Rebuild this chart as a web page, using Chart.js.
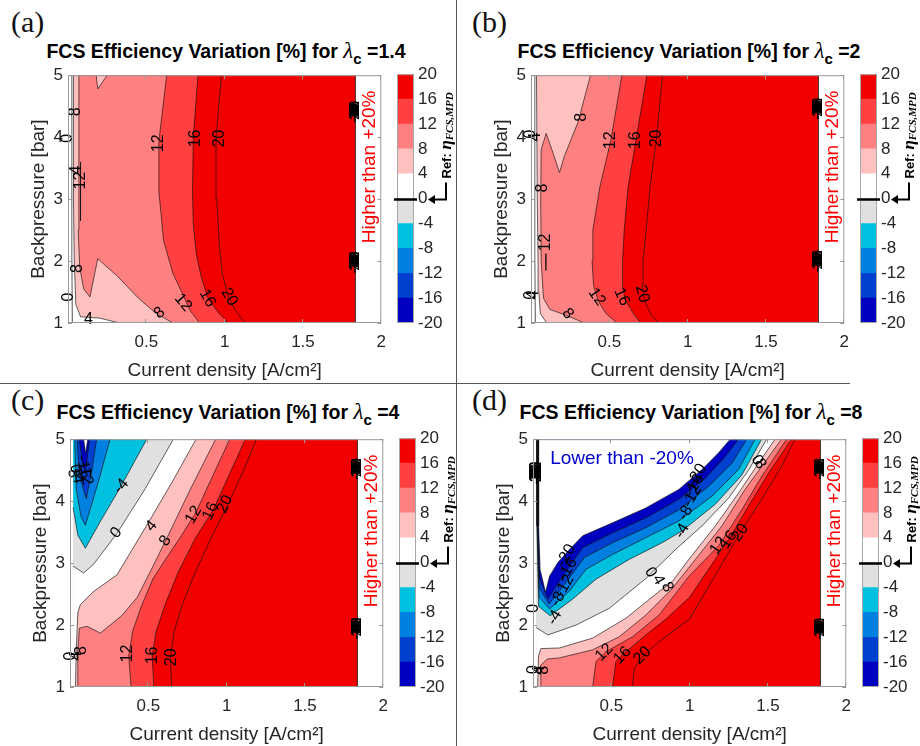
<!DOCTYPE html>
<html>
<head>
<meta charset="utf-8">
<script src="https://cdn.jsdelivr.net/npm/chart.js@4.4.1/dist/chart.umd.min.js"></script>
<style>
  body { margin: 0; background: #fff; }
  #page { position: relative; width: 920px; height: 746px; overflow: hidden; font-family: "Liberation Sans", Arial, sans-serif; }
  canvas { position: absolute; }
  .tag { position: absolute; font-family: "Liberation Serif", "Times New Roman", serif; font-size: 30px; line-height: 1; color: #111; }
  .title { position: absolute; transform: translateX(-50%); white-space: nowrap; font-weight: bold; font-size: 19.5px; line-height: 19px; color: #000; }
  .lam { font-family: "Liberation Serif", serif; font-style: italic; font-weight: normal; font-size: 23px; }
  .sub { position: relative; top: 6px; font-size: 15px; }
  .rule { position: absolute; background: #555; }
</style>
</head>
<body>
<div id="page">
  <div class="rule" style="left:456px;top:0;width:1px;height:746px"></div>
  <div class="rule" style="left:0;top:383px;width:850px;height:1px"></div>

  <div class="tag" style="left:11px;top:7px">(a)</div>
  <div class="tag" style="left:472px;top:7px">(b)</div>
  <div class="tag" style="left:11px;top:385px">(c)</div>
  <div class="tag" style="left:472px;top:385px">(d)</div>

  <div class="title" id="tA" style="left:226px;top:41px"></div>
  <div class="title" id="tB" style="left:689px;top:41px"></div>
  <div class="title" id="tC" style="left:228px;top:402px"></div>
  <div class="title" id="tD" style="left:691px;top:402px"></div>

  <canvas id="mA" width="395" height="322" style="left:0;top:60px"></canvas>
  <canvas id="mB" width="395" height="322" style="left:463px;top:60px"></canvas>
  <canvas id="mC" width="395" height="322" style="left:2px;top:424px"></canvas>
  <canvas id="mD" width="395" height="322" style="left:465px;top:424px"></canvas>

  <canvas id="cA" width="68" height="322" style="left:388px;top:60px"></canvas>
  <canvas id="cB" width="68" height="322" style="left:851px;top:60px"></canvas>
  <canvas id="cC" width="68" height="322" style="left:390px;top:424px"></canvas>
  <canvas id="cD" width="68" height="322" style="left:853px;top:424px"></canvas>
</div>

<script>
// axes
const xTicks = [0.5, 1, 1.5, 2];
const yTicks = [1, 2, 3, 4, 5];
const cbLevels = [-20, -16, -12, -8, -4, 0, 4, 8, 12, 16, 20];
const cbColors = ['#0000c0', '#0040d0', '#0080e0', '#00c0e0', '#e0e0e0', '#ffffff', '#ffc0c0', '#ff8080', '#ff4040', '#f20000'];
const dataX = [0.02, 1.835];   // extent of the computed grid (current density)
const lambdas = ['1.4', '2', '4', '8'];

// contour lines: [level, [[j, p], ...]]
const aLines = [
  [20, [[1.13, 1], [1.07, 1.2], [1.02, 1.45], [0.985, 1.8], [0.965, 2.3], [0.95, 3.0], [0.945, 4.0], [0.98, 5]]],
  [16, [[1.02, 1], [0.95, 1.2], [0.89, 1.42], [0.85, 1.75], [0.82, 2.1], [0.80, 2.6], [0.795, 3.13], [0.80, 4.0], [0.83, 5]]],
  [12, [[0.84, 1], [0.78, 1.2], [0.74, 1.42], [0.67, 1.8], [0.61, 2.33], [0.58, 3.13], [0.58, 3.93], [0.63, 5]]],
  [8, [[0.67, 1], [0.56, 1.16], [0.45, 1.4], [0.31, 1.77], [0.25, 1.9], [0.19, 2.04], [0.14, 1.42], [0.10, 1.55], [0.075, 1.9], [0.065, 2.5], [0.068, 3.5], [0.07, 4.4], [0.07, 5]]],
  [8, [[0.18, 5], [0.19, 4.78], [0.25, 5]]],
  [4, [[0.33, 1], [0.2, 1.08], [0.08, 1.1], [0.05, 1.3], [0.04, 2.0], [0.035, 3], [0.035, 5]]],
  [0, [[0.028, 1], [0.025, 2], [0.024, 4], [0.025, 5]]]
];
const aExtra = [[[0.08, 3.6], [0.08, 2.65]]];
const aLabels = [
  ['8', 0.05, 4.41, -90], ['0', 0.0, 3.98, -90], ['4', 0.055, 3.47, -90], ['12', 0.08, 3.3, -90],
  ['8', 0.06, 1.88, -90], ['0', 0.005, 1.42, -90], ['4', 0.13, 1.05, 0],
  ['8', 0.585, 1.16, -40], ['12', 0.735, 1.33, 50], ['16', 0.89, 1.40, 60], ['20', 1.03, 1.42, 60],
  ['12', 0.58, 3.9, -90], ['16', 0.815, 3.98, -90], ['20', 0.965, 3.98, -90]
];
const aClusterY = [4.41, 1.98];

const bLines = [
  [20, [[0.82, 1], [0.77, 1.12], [0.725, 1.35], [0.71, 1.6], [0.715, 2.0], [0.735, 2.5], [0.76, 3.2], [0.80, 3.95], [0.84, 5]]],
  [16, [[0.70, 1], [0.655, 1.15], [0.60, 1.38], [0.585, 1.6], [0.585, 2.0], [0.595, 2.5], [0.62, 3.2], [0.67, 3.95], [0.74, 5]]],
  [12, [[0.55, 1], [0.48, 1.15], [0.43, 1.35], [0.40, 1.6], [0.39, 2.0], [0.395, 2.5], [0.44, 3.2], [0.51, 3.95], [0.58, 5]]],
  [8, [[0.34, 1], [0.23, 1.12], [0.12, 1.22], [0.08, 1.4], [0.065, 2.0], [0.062, 3.0], [0.065, 3.8], [0.097, 4.06], [0.14, 3.75], [0.182, 3.43], [0.214, 3.7], [0.30, 4.24], [0.38, 5]]],
  [4, [[0.10, 1], [0.06, 1.15], [0.05, 1.5], [0.045, 2.0], [0.04, 3.0], [0.035, 5]]],
  [0, [[0.028, 1], [0.025, 2], [0.024, 4], [0.025, 5]]]
];
const bExtra = [[[0.095, 2.12], [0.095, 1.85]]];
const bLabels = [
  ['8', 0.32, 4.32, -90], ['12', 0.51, 3.95, -90], ['16', 0.67, 3.95, -90], ['20', 0.80, 3.98, -90],
  ['0', 0.0, 4.05, -90], ['4', 0.03, 4.0, -90], ['8', 0.075, 3.18, -90], ['12', 0.095, 2.3, -90],
  ['0', 0.0, 1.45, -90], ['4', 0.015, 1.45, -90],
  ['8', 0.235, 1.15, 50], ['12', 0.42, 1.42, 55], ['16', 0.58, 1.42, 65], ['20', 0.71, 1.47, 75]
];
const bClusterY = [4.46, 2.0];

const cLines = [
  [20, [[0.65, 1], [0.64, 1.45], [0.665, 1.9], [0.72, 2.35], [0.80, 2.85], [0.90, 3.4], [1.0, 3.9], [1.10, 4.45], [1.19, 5]]],
  [16, [[0.535, 1], [0.525, 1.5], [0.55, 1.9], [0.61, 2.35], [0.69, 2.85], [0.80, 3.4], [0.915, 3.86], [1.02, 4.45], [1.12, 5]]],
  [12, [[0.39, 1], [0.375, 1.5], [0.40, 1.9], [0.455, 2.3], [0.53, 2.75], [0.62, 3.1], [0.70, 3.4], [0.80, 3.8], [0.91, 4.4], [1.02, 5]]],
  [8, [[0.045, 1], [0.05, 1.6], [0.06, 1.95], [0.109, 1.98], [0.193, 1.87], [0.33, 2.15], [0.43, 2.45], [0.52, 2.9], [0.61, 3.36], [0.77, 4.2], [0.93, 5]]],
  [4, [[0.035, 1], [0.04, 1.6], [0.05, 2.2], [0.066, 2.33], [0.15, 2.54], [0.30, 2.81], [0.49, 3.61], [0.65, 4.3], [0.805, 5]]],
  [0, [[0.02, 2.95], [0.087, 2.84], [0.15, 2.98], [0.30, 3.48], [0.48, 4.2], [0.66, 5]]],
  [-4, [[0.02, 3.9], [0.05, 3.45], [0.098, 3.24], [0.2, 3.7], [0.33, 4.26], [0.49, 5]]],
  [-8, [[0.03, 5], [0.04, 4.2], [0.07, 3.75], [0.098, 3.61], [0.18, 4.3], [0.256, 5]]],
  [-12, [[0.045, 5], [0.06, 4.4], [0.104, 4.04], [0.14, 4.5], [0.17, 5]]],
  [-16, [[0.06, 5], [0.08, 4.6], [0.098, 4.47], [0.11, 4.7], [0.125, 5]]],
  [-20, [[0.087, 5], [0.1, 4.77], [0.113, 5]]]
];
const cExtra = [];
const cLabels = [
  ['-4', 0.327, 4.24, -50], ['0', 0.295, 3.49, -50], ['4', 0.52, 3.60, -50], ['8', 0.61, 3.36, -55],
  ['12', 0.79, 3.78, -60], ['16', 0.897, 3.84, -65], ['20', 0.99, 3.95, -65],
  ['12', 0.37, 1.54, -90], ['16', 0.53, 1.51, -90], ['20', 0.65, 1.48, -90],
  ['8', 0.074, 1.59, -90], ['4', 0.04, 1.5, -90], ['0', 0.005, 1.5, -90],
  ['8', 0.02, 4.45, 80], ['0', 0.035, 4.52, 80], ['-4', 0.045, 4.4, 80], ['-16', 0.085, 4.55, 80], ['-12', 0.1, 4.45, 80]
];
const cClusterY = [4.52, 1.95];

const dLines = [
  [20, [[0.635, 1], [0.646, 1.3], [0.698, 1.49], [0.804, 1.73], [1.0, 2.1], [1.323, 3.49], [1.46, 4.03], [1.587, 4.56], [1.672, 5]]],
  [16, [[0.508, 1], [0.529, 1.41], [0.571, 1.52], [0.72, 1.84], [0.85, 2.1], [1.0, 2.45], [1.249, 3.38], [1.376, 3.92], [1.503, 4.45], [1.651, 5]]],
  [12, [[0.381, 1], [0.402, 1.41], [0.466, 1.57], [0.635, 1.81], [0.804, 2.16], [1.0, 2.8], [1.185, 3.28], [1.333, 3.86], [1.46, 4.4], [1.619, 5]]],
  [8, [[0.045, 1], [0.05, 1.35], [0.09, 1.45], [0.169, 1.47], [0.381, 1.6], [0.55, 1.81], [0.72, 2.16], [0.889, 2.59], [1.037, 3.06], [1.206, 3.6], [1.354, 4.19], [1.46, 4.56], [1.587, 5]]],
  [4, [[0.03, 1], [0.035, 1.5], [0.05, 1.62], [0.169, 1.63], [0.381, 1.79], [0.593, 2.11], [0.804, 2.54], [0.889, 2.70], [0.995, 3.06], [1.164, 3.6], [1.312, 4.13], [1.439, 4.61], [1.545, 5]]],
  [0, [[0.02, 1.96], [0.095, 1.84], [0.275, 2.0], [0.487, 2.27], [0.72, 2.75], [0.91, 3.22], [1.079, 3.6], [1.249, 4.05], [1.376, 4.5], [1.492, 5]]],
  [-4, [[0.024, 5], [0.025, 3.6], [0.036, 2.3], [0.11, 2.15], [0.254, 2.42], [0.402, 2.74], [0.614, 3.06], [0.825, 3.33], [0.952, 3.52], [1.164, 3.95], [1.333, 4.42], [1.46, 5]]],
  [-8, [[0.026, 5], [0.027, 3.6], [0.038, 2.45], [0.106, 2.26], [0.233, 2.55], [0.339, 2.9], [0.508, 3.14], [0.72, 3.41], [0.931, 3.68], [1.143, 4.08], [1.312, 4.51], [1.418, 5]]],
  [-12, [[0.028, 5], [0.029, 3.6], [0.04, 2.6], [0.102, 2.34], [0.212, 2.69], [0.328, 3.09], [0.508, 3.33], [0.72, 3.57], [0.931, 3.86], [1.122, 4.24], [1.27, 4.61], [1.365, 5]]],
  [-16, [[0.031, 5], [0.032, 3.6], [0.042, 2.75], [0.095, 2.42], [0.19, 2.79], [0.317, 3.25], [0.508, 3.49], [0.72, 3.73], [0.931, 4.03], [1.1, 4.37], [1.228, 4.72], [1.312, 5]]],
  [-20, [[0.035, 5], [0.036, 3.6], [0.045, 2.9], [0.08, 2.53], [0.106, 2.79], [0.159, 3.01], [0.233, 3.22], [0.317, 3.44], [0.508, 3.65], [0.72, 3.89], [0.931, 4.19], [1.079, 4.51], [1.185, 4.78], [1.259, 5]]]
];
const dExtra = [];
const dLabels = [
  ['-4', 0.952, 3.52, -60], ['-8', 0.974, 3.81, -60], ['-12', 1.016, 4.08, -60], ['-16', 1.03, 4.25, -60], ['-20', 1.048, 4.42, -60],
  ['-20', 0.212, 3.12, -60], ['-16', 0.222, 2.9, -60], ['-12', 0.201, 2.63, -60], ['-8', 0.159, 2.42, -60], ['-4', 0.138, 2.12, -60],
  ['0', 0.751, 2.85, 60], ['4', 0.80, 2.73, 60], ['8', 0.857, 2.61, 60],
  ['12', 1.185, 3.28, -55], ['16', 1.249, 3.38, -55], ['20', 1.323, 3.49, -55],
  ['0', 1.43, 4.66, 60], ['8', 1.45, 4.6, 60],
  ['12', 0.455, 1.56, -45], ['16', 0.571, 1.51, -45], ['20', 0.698, 1.51, -45],
  ['0', 0.005, 1.28, -90], ['4', 0.04, 1.27, -90], ['8', 0.07, 1.27, -90], ['0', 0.005, 2.27, -90]
];
const dClusterY = [4.52, 1.94];

const tickFont = { family: '"Liberation Sans", Arial, sans-serif', size: 17 };
const axisFont = { family: '"Liberation Sans", Arial, sans-serif', size: 19 };
const inkGrey = '#262626';

function pts(list) {
  return list.map(p => ({ x: p[0], y: p[1] }));
}

// colour of the band just under a contour level
function colorBelow(level) {
  const i = cbLevels.indexOf(level) - 1;
  return i < 0 ? '#ffffff' : cbColors[i];
}

// MATLAB-like box with inward ticks
const axesBox = {
  id: 'axesBox',
  afterDraw(chart) {
    const { ctx, chartArea: a, scales: { x, y } } = chart;
    ctx.save();
    ctx.strokeStyle = '#9a9a9a';
    ctx.lineWidth = 1;
    ctx.strokeRect(a.left + 0.5, a.top + 0.5, a.right - a.left - 1, a.bottom - a.top - 1);
    ctx.beginPath();
    xTicks.forEach(v => {
      const px = Math.round(x.getPixelForValue(v)) - 0.5;
      ctx.moveTo(px, a.bottom); ctx.lineTo(px, a.bottom - 4);
      ctx.moveTo(px, a.top); ctx.lineTo(px, a.top + 4);
    });
    yTicks.forEach(v => {
      const py = Math.round(y.getPixelForValue(v)) + 0.5;
      ctx.moveTo(a.left, py); ctx.lineTo(a.left + 4, py);
      ctx.moveTo(a.right, py); ctx.lineTo(a.right - 4, py);
    });
    ctx.stroke();
    ctx.restore();
  }
};

function contourText(labels, clusterY, notes) {
  return {
    id: 'contourText',
    afterDatasetsDraw(chart) {
      const { ctx, scales: { x, y } } = chart;
      const put = (t, vx, vy, rot) => {
        ctx.save();
        ctx.translate(x.getPixelForValue(vx), y.getPixelForValue(vy));
        ctx.rotate(rot * Math.PI / 180);
        ctx.fillText(t, 0, 0);
        ctx.restore();
      };
      ctx.save();
      ctx.textAlign = 'center';
      ctx.textBaseline = 'middle';
      ctx.fillStyle = '#000';
      ctx.font = '16px "Liberation Sans", Arial, sans-serif';
      labels.forEach(l => put(l[0], l[1], l[2], l[3]));
      // labels piled up at the edge of the grid
      ctx.font = '15px "Liberation Sans", Arial, sans-serif';
      clusterY.forEach(cy => cbLevels.forEach(v => put(String(v), dataX[1] - 0.002, cy, -90)));
      notes.forEach(n => {
        ctx.fillStyle = n.color;
        ctx.font = '19px "Liberation Sans", Arial, sans-serif';
        put(n.text, n.x, n.y, n.rot);
      });
      ctx.restore();
    }
  };
}

function buildContours(id, lines, extra, labels, clusterY, notes) {
  const x0 = dataX[0], x1 = dataX[1];
  const fills = [];
  const strokes = [];
  fills.push({ data: pts([[x0, 1], [x1, 1], [x1, 5], [x0, 5]]), fill: 'shape', backgroundColor: cbColors[9] });
  lines.slice().sort((p, q) => q[0] - p[0]).forEach(([lev, p]) => {
    const poly = p.concat([[x0, 5]]);
    if (p[0][1] === 1) poly.push([x0, 1]);
    fills.push({ data: pts(poly), fill: 'shape', backgroundColor: colorBelow(lev) });
  });
  lines.forEach(([lev, p]) => strokes.push({ data: pts(p), fill: false, borderColor: '#111', borderWidth: 0.65 }));
  extra.forEach(p => strokes.push({ data: pts(p), fill: false, borderColor: '#111', borderWidth: 0.65 }));
  strokes.push({ data: pts([[x1, 1], [x1, 5]]), fill: false, borderColor: '#111', borderWidth: 0.8 });
  fills.forEach(d => { d.borderWidth = 0; d.borderColor = 'transparent'; });
  const ds = fills.concat(strokes);
  ds.forEach((d, i) => { d.order = ds.length - i; d.pointRadius = 0; d.pointHoverRadius = 0; d.tension = 0; });

  new Chart(document.getElementById(id), {
    type: 'line',
    data: { datasets: ds },
    options: {
      responsive: false,
      animation: false,
      events: [],
      devicePixelRatio: 1,
      layout: { padding: { left: 0, right: 12, top: 13, bottom: 0 } },
      plugins: { legend: { display: false }, tooltip: { enabled: false } },
      scales: {
        x: {
          type: 'linear', min: 0, max: 2,
          afterBuildTicks: s => { s.ticks = xTicks.map(v => ({ value: v })); },
          afterFit: s => { s.height = 59; },
          grid: { display: false, drawTicks: false },
          border: { display: false },
          ticks: { font: tickFont, color: inkGrey, padding: 9, maxRotation: 0, autoSkip: false, callback: v => String(v) },
          title: { display: true, text: 'Current density [A/cm²]', font: axisFont, color: inkGrey, padding: { top: 0, bottom: 0 } }
        },
        y: {
          type: 'linear', min: 1, max: 5,
          afterBuildTicks: s => { s.ticks = yTicks.map(v => ({ value: v })); },
          afterFit: s => { s.width = 68; },
          grid: { display: false, drawTicks: false },
          border: { display: false },
          ticks: { font: tickFont, color: inkGrey, padding: 5, callback: v => String(v) },
          title: { display: true, text: 'Backpressure [bar]', font: axisFont, color: inkGrey, padding: { top: 27, bottom: 0 } }
        }
      }
    },
    plugins: [contourText(labels, clusterY, notes), axesBox]
  });
}

// zero reference marker beside the colour bar
const refMarker = {
  id: 'refMarker',
  afterDraw(chart) {
    const { ctx, chartArea: a, scales: { y } } = chart;
    const y0 = Math.round(y.getPixelForValue(0)) + 0.5;
    ctx.save();
    ctx.strokeStyle = '#a8a8a8';
    ctx.lineWidth = 1;
    ctx.strokeRect(a.left + 0.5, a.top + 0.5, a.right - a.left - 1, a.bottom - a.top - 1);
    ctx.strokeStyle = '#000';
    ctx.fillStyle = '#000';
    ctx.lineWidth = 2.5;
    ctx.beginPath(); ctx.moveTo(a.left - 3, y0); ctx.lineTo(a.right + 3, y0); ctx.stroke();
    const tip = a.right + 14, elbow = a.right + 32;
    ctx.lineWidth = 2;
    ctx.beginPath(); ctx.moveTo(tip + 5, y0); ctx.lineTo(elbow, y0); ctx.lineTo(elbow, y0 - 17); ctx.stroke();
    ctx.beginPath(); ctx.moveTo(tip, y0); ctx.lineTo(tip + 7, y0 - 4.5); ctx.lineTo(tip + 7, y0 + 4.5); ctx.closePath(); ctx.fill();
    ctx.translate(elbow + 1, y0 - 21);
    ctx.rotate(-Math.PI / 2);
    ctx.textAlign = 'left';
    ctx.textBaseline = 'middle';
    ctx.font = 'bold 13px "Liberation Sans", Arial, sans-serif';
    ctx.fillText('Ref: ', 0, 0);
    let w = ctx.measureText('Ref: ').width;
    ctx.font = 'italic bold 17px "Liberation Serif", serif';
    ctx.fillText('η', w, 0);
    w += ctx.measureText('η').width;
    ctx.font = 'italic bold 11px "Liberation Serif", serif';
    ctx.fillText('FCS,MPD', w, 3);
    ctx.restore();
  }
};

function buildColorbar(id) {
  const ds = cbColors.map((c, i) => ({
    data: [[cbLevels[i], cbLevels[i + 1]]],
    backgroundColor: c, borderWidth: 0, grouped: false,
    barPercentage: 1, categoryPercentage: 1
  }));
  new Chart(document.getElementById(id), {
    type: 'bar',
    data: { labels: [''], datasets: ds },
    options: {
      responsive: false,
      animation: false,
      events: [],
      devicePixelRatio: 1,
      layout: { padding: { left: 9, right: 0, top: 13, bottom: 59 } },
      plugins: { legend: { display: false }, tooltip: { enabled: false } },
      scales: {
        x: { display: false },
        y: {
          position: 'right', min: -20, max: 20,
          afterBuildTicks: s => { s.ticks = cbLevels.map(v => ({ value: v })); },
          afterFit: s => { s.width = 42; },
          grid: { display: false, drawTicks: false },
          border: { display: false },
          ticks: { font: tickFont, color: inkGrey, padding: 4, callback: v => String(v) }
        }
      }
    },
    plugins: [refMarker]
  });
}

const higher = { text: 'Higher than +20%', x: 1.925, y: 3.52, rot: -90, color: '#ff0000' };
const lower = { text: 'Lower than -20%', x: 0.568, y: 4.69, rot: 0, color: '#0000cc' };

['tA', 'tB', 'tC', 'tD'].forEach((id, i) => {
  document.getElementById(id).innerHTML =
    'FCS Efficiency Variation [%] for <span class="lam">λ</span><span class="sub">c</span> =' + lambdas[i];
});

buildContours('mA', aLines, aExtra, aLabels, aClusterY, [higher]);
buildContours('mB', bLines, bExtra, bLabels, bClusterY, [higher]);
buildContours('mC', cLines, cExtra, cLabels, cClusterY, [higher]);
buildContours('mD', dLines, dExtra, dLabels.concat(cbLevels.map(v => [String(v), 0.022, 4.45, -90])), dClusterY, [higher, lower]);
['cA', 'cB', 'cC', 'cD'].forEach(buildColorbar);
</script>
</body>
</html>
